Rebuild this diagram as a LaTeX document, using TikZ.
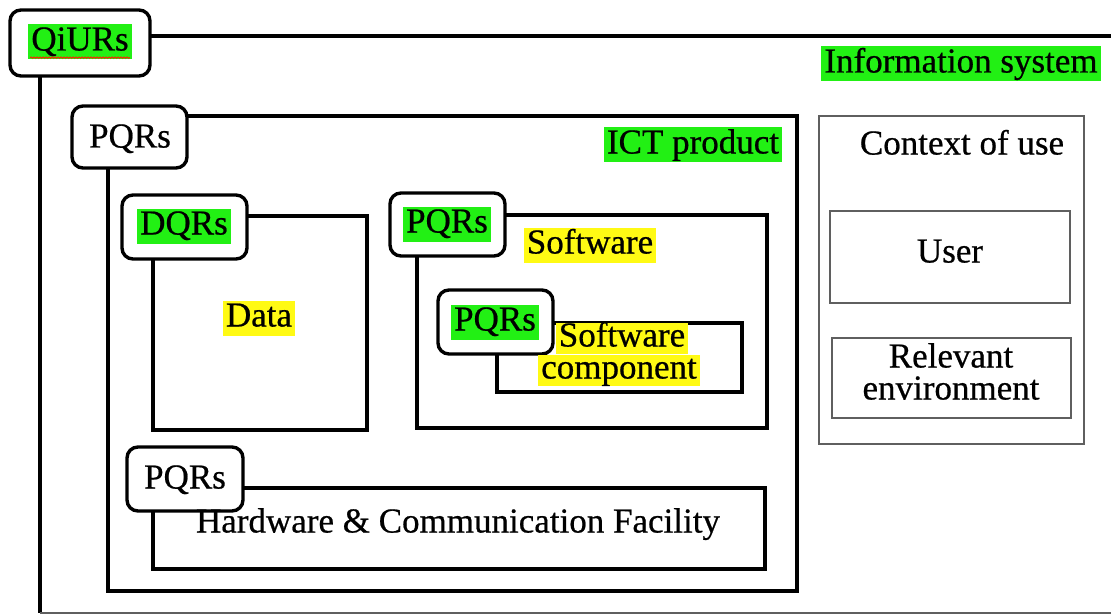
\documentclass[tikz,border=0pt]{standalone}
\usepackage{fontspec}
\setmainfont{Liberation Serif}
\newfontfamily\labelfont{Liberation Serif}[BoldFont={Liberation Serif}, BoldFeatures={FakeBold=0.6}]
\usetikzlibrary{fit,decorations.pathmorphing}

\definecolor{hlgreen}{RGB}{34,240,20}
\definecolor{hlyellow}{RGB}{255,250,20}
\definecolor{framegray}{RGB}{95,95,95}

\tikzset{
  txt/.style={font=\labelfont\bfseries\fontsize{35}{30}\selectfont, inner xsep=3pt, inner ysep=1pt,
              text height=25pt, text depth=8pt},
  greenhl/.style={txt, fill=hlgreen},
  yellowhl/.style={txt, fill=hlyellow},
  frame/.style={draw=black, line width=3.4pt, inner sep=0pt},
  lightframe/.style={draw=framegray, line width=1.6pt, inner sep=0pt},
  tag/.style={draw=black, line width=3.4pt, rounded corners=11pt, fill=white, inner sep=0pt},
}

\begin{document}
\begin{tikzpicture}[x=1pt, y=-1pt]
\useasboundingbox (0,0) rectangle (1111,615);
\clip (0,0) rectangle (1111,615);

% corner points of the outer frame
\coordinate (isTL) at (40,36);
\coordinate (isTR) at (1130,36);
\coordinate (isBL) at (40,613);
\coordinate (isBR) at (1130,613);

% information system frame
\draw[black, line width=3.4pt] (isTR) -- (isTL) -- (isBL);
\draw[framegray, line width=1.5pt] (isBL) -- (isBR);

% ICT product and its parts
\path (108,116) coordinate (ictA) (797,591) coordinate (ictB);
\node[frame, fit=(ictA)(ictB)] (ict) {};
\path (153,216) coordinate (datA) (367,430) coordinate (datB);
\node[frame, fit=(datA)(datB)] (data) {};
\path (417,215) coordinate (swA) (767,428) coordinate (swB);
\node[frame, fit=(swA)(swB)] (sw) {};
\path (497,323) coordinate (scA) (742,392) coordinate (scB);
\node[frame, fit=(scA)(scB)] (swc) {};
\path (153,488) coordinate (hwA) (765,569) coordinate (hwB);
\node[frame, fit=(hwA)(hwB)] (hw) {};

% context of use
\path (819,116) coordinate (cuA) (1084,444) coordinate (cuB);
\node[lightframe, fit=(cuA)(cuB)] (ctx) {};
\path (830,211) coordinate (usA) (1070,303) coordinate (usB);
\node[lightframe, fit=(usA)(usB)] (user) {};
\path (832,338) coordinate (reA) (1071,418) coordinate (reB);
\node[lightframe, fit=(reA)(reB)] (env) {};

% requirement tags
\path (10,10) coordinate (q1A) (150,76) coordinate (q1B);
\node[tag, fit=(q1A)(q1B)] (qiurs) {};
\path (72,106) coordinate (p1A) (187,168) coordinate (p1B);
\node[tag, fit=(p1A)(p1B)] (pqrsIct) {};
\path (122,195) coordinate (d1A) (247,259) coordinate (d1B);
\node[tag, fit=(d1A)(d1B)] (dqrs) {};
\path (390,193) coordinate (p2A) (505,256) coordinate (p2B);
\node[tag, fit=(p2A)(p2B)] (pqrsSw) {};
\path (438,290) coordinate (p3A) (553,354) coordinate (p3B);
\node[tag, fit=(p3A)(p3B)] (pqrsSwc) {};
\path (127,447) coordinate (p4A) (243,511) coordinate (p4B);
\node[tag, fit=(p4A)(p4B)] (pqrsHw) {};

% labels
\node[greenhl] (tQiurs) at (80,42) {QiURs};
\draw[red!75!orange, line width=0.9pt, decorate,
      decoration={snake, amplitude=0.7pt, segment length=3pt}]
      ([xshift=2pt, yshift=2pt]tQiurs.south west) -- ([xshift=-2pt, yshift=2pt]tQiurs.south east);
\node[greenhl] (tIs) at (961,64) {Information system};
\node[txt] (tPqrsIct) at (130,139) {PQRs};
\node[greenhl] (tIct) at (693,145) {ICT product};
\node[greenhl] (tDqrs) at (184,226) {DQRs};
\node[yellowhl] (tData) at (259,318) {Data};
\node[greenhl] (tPqrsSw) at (447,224) {PQRs};
\node[yellowhl] (tSw) at (590,245) {Software};
\node[greenhl] (tPqrsSwc) at (495,322) {PQRs};
\node[yellowhl, inner ysep=0pt, text height=24pt, text depth=7pt] (tSwc1) at (622,338) {Software};
\node[yellowhl, inner ysep=0pt, text height=24pt, text depth=7pt] (tSwc2) at (619,370) {component};
\node[txt] (tPqrsHw) at (185,480) {PQRs};
\node[txt] (tHw) at (458,524) {Hardware \& Communication Facility};
\node[txt] (tCtx) at (962,146) {Context of use};
\node[txt] (tUser) at (950,254) {User};
\node[txt, inner ysep=0pt, text height=22pt, text depth=5pt] (tEnv1) at (951,359) {Relevant};
\node[txt, inner ysep=0pt, text height=22pt, text depth=5pt] (tEnv2) at (951,391) {environment};
\end{tikzpicture}
\end{document}
